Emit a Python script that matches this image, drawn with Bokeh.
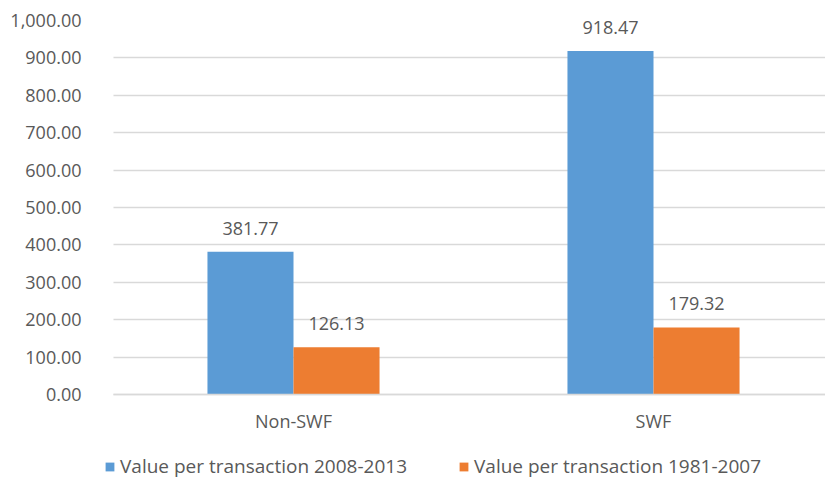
from bokeh.plotting import figure
from bokeh.models import (ColumnDataSource, Range1d, FixedTicker, NumeralTickFormatter,
                          LabelSet, Legend, LegendItem, Grid)
from bokeh.core.properties import value
from bokeh.transform import dodge
from bokeh.embed import file_html
from bokeh.resources import INLINE

categories = ["Non-SWF", "SWF"]
series_names = ["Value per transaction 2008-2013", "Value per transaction 1981-2007"]
v_2008_2013 = [381.77, 918.47]
v_1981_2007 = [126.13, 179.32]
y_ticks = [0, 100, 200, 300, 400, 500, 600, 700, 800, 900, 1000]

FONT = "Open Sans"
TXT = "#595959"
FS = "18px"
FS_LEG = "19px"
BLUE = "#5B9BD5"
ORANGE = "#ED7D31"
GRID = "#D9D9D9"

# layout geometry (pixels)
W, H = 825, 479
PLOT_L, PLOT_T, ZERO_Y = 113, 20, 394   # value-area left, top (1000) and zero line
FRAME_L = 104                            # frame extended left/down so the legend is not clipped
CAT_W = 360                              # pixels per category
px_per_unit = (ZERO_Y - PLOT_T) / 1000.0
y_lo = -(H - ZERO_Y) / px_per_unit
x_lo = -(PLOT_L - FRAME_L) / CAT_W
x_hi = (W - PLOT_L) / CAT_W

xs = [i + 0.5 for i in range(len(categories))]
src = ColumnDataSource(dict(
    x=xs,
    a=v_2008_2013,
    b=v_1981_2007,
    la=[f"{v:.2f}" for v in v_2008_2013],
    lb=[f"{v:.2f}" for v in v_1981_2007],
))

p = figure(width=W, height=H, output_backend="svg", toolbar_location=None,
           x_range=Range1d(x_lo, x_hi), y_range=Range1d(y_lo, 1000),
           min_border_left=FRAME_L, min_border_right=0, min_border_top=PLOT_T,
           min_border_bottom=0)
p.outline_line_color = None
p.background_fill_color = "white"
p.border_fill_color = "white"

bw = 0.239
off = 0.1195
ra = p.vbar(x=dodge("x", -off, range=p.x_range), top="a", width=bw, source=src,
            fill_color=BLUE, line_color=None)
rb = p.vbar(x=dodge("x", off, range=p.x_range), top="b", width=bw, source=src,
            fill_color=ORANGE, line_color=None)

for col, lab, sgn in (("a", "la", -1), ("b", "lb", 1)):
    ls = LabelSet(x=dodge("x", sgn * off, range=p.x_range), y=col, text=lab, source=src,
                  text_align="center", text_baseline="alphabetic", y_offset=17,
                  text_font=value(FONT), text_font_size=value(FS), text_color=value(TXT))
    p.add_layout(ls)

# grid
p.xgrid.grid_line_color = None
p.ygrid.grid_line_color = GRID
p.ygrid.grid_line_width = 1.3
p.ygrid.ticker = FixedTicker(ticks=y_ticks)
if "cross_bounds" in Grid.properties():
    p.ygrid.cross_bounds = (0, x_hi)

# y axis
p.yaxis.ticker = FixedTicker(ticks=y_ticks)
p.yaxis.formatter = NumeralTickFormatter(format="0,0.00")
p.yaxis.axis_line_color = None
p.yaxis.major_tick_line_color = None
p.yaxis.minor_tick_line_color = None
p.yaxis.major_label_standoff = 17
p.yaxis.major_label_text_font = FONT
p.yaxis.major_label_text_font_size = FS
p.yaxis.major_label_text_color = TXT

# x axis, pinned at the zero line
p.xaxis.fixed_location = 0
p.xaxis.bounds = (0, x_hi)
p.xaxis.ticker = FixedTicker(ticks=xs)
p.xaxis.major_label_overrides = {x: c for x, c in zip(xs, categories)}
p.xaxis.axis_line_color = GRID
p.xaxis.axis_line_width = 1.3
p.xaxis.major_tick_line_color = None
p.xaxis.minor_tick_line_color = None
p.xaxis.major_label_standoff = 8
p.xaxis.major_label_text_font = FONT
p.xaxis.major_label_text_font_size = FS
p.xaxis.major_label_text_color = TXT

for r, name, vx in ((ra, series_names[0], 0), (rb, series_names[1], 354)):
    lg = Legend(items=[LegendItem(label=name, renderers=[r])], location=(vx, 0),
                orientation="horizontal", glyph_width=11, glyph_height=11,
                label_standoff=5, padding=0, margin=0, border_line_color=None,
                background_fill_alpha=0, label_text_font=FONT,
                label_text_font_size=FS_LEG, label_text_color=TXT)
    p.add_layout(lg, "center")

open("out.html", "w").write(file_html(p, INLINE))
